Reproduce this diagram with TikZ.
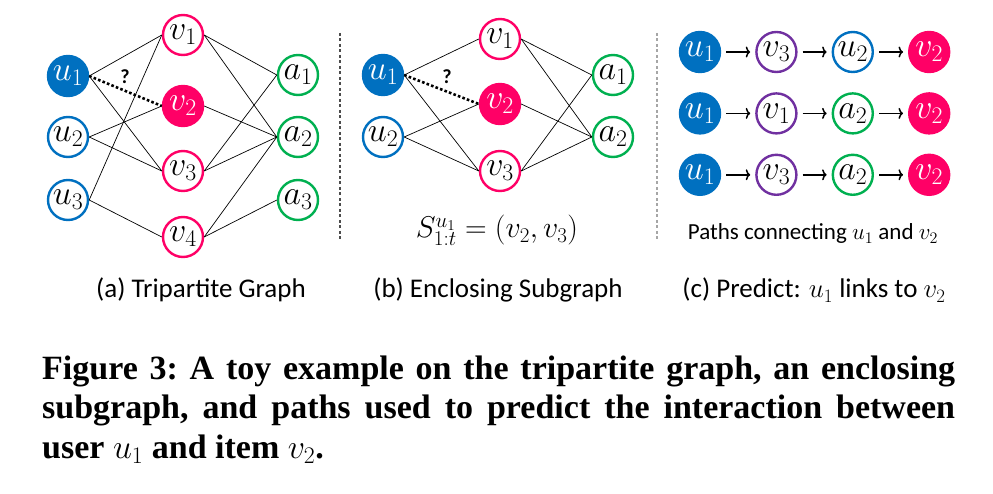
\RequirePackage{fix-cm}
\documentclass[tikz,border=0pt]{standalone}
\usepackage{fontspec}
\setmainfont{Liberation Serif}
\newfontfamily\calibri{Carlito}
\usetikzlibrary{positioning,arrows.meta}
\definecolor{ublue}{HTML}{0070C0}
\definecolor{vpink}{HTML}{FF0066}
\definecolor{agreen}{HTML}{00B050}
\definecolor{vpurple}{HTML}{7030A0}

\begin{document}
\begin{tikzpicture}[
  x=1pt,y=1pt,
  node distance=34pt,
  vtx/.style={circle,line width=2.4pt,minimum size=40pt,inner sep=0pt,fill=white,font=\fontsize{34}{36}\selectfont},
  usr/.style={vtx,draw=ublue},
  usrq/.style={vtx,draw=ublue,fill=ublue,text=white},
  itm/.style={vtx,draw=vpink},
  itmq/.style={vtx,draw=vpink,fill=vpink,text=white},
  itmp/.style={vtx,draw=vpurple},
  att/.style={vtx,draw=agreen},
  ln/.style={line width=0.7pt},
  qln/.style={line width=2.6pt,dash pattern=on 2.6pt off 2.2pt},
  qmark/.style={font=\calibri\bfseries\fontsize{20}{22}\selectfont},
  ar/.style={-{To[length=4.5pt,width=11pt]},line width=1.5pt,shorten <=5pt,shorten >=5pt},
  sep/.style={line width=1.1pt,dash pattern=on 3pt off 2.5pt},
  sub/.style={font=\calibri\fontsize{27}{30}\selectfont,anchor=base}
]
\useasboundingbox (0,0) rectangle (993,493);

% (a) tripartite graph
\node[usrq] (tu1) at (68,417) {$u_1$};
\node[usr] (tu2) at (68,356) {$u_2$};
\node[usr] (tu3) at (68,293) {$u_3$};
\node[itm] (tv1) at (183,458) {$v_1$};
\node[itmq] (tv2) at (183,387) {$v_2$};
\node[itm] (tv3) at (183,322) {$v_3$};
\node[itm] (tv4) at (183,256) {$v_4$};
\node[att] (ta1) at (298,418) {$a_1$};
\node[att] (ta2) at (298,356) {$a_2$};
\node[att] (ta3) at (298,293) {$a_3$};
\node[qmark] (tq) at (125,416) {?};

\draw[ln] (tu1.east) -- (tv1.west);
\draw[ln] (tu1.east) -- (tv3.west);
\draw[ln] (tu2.east) -- (tv2.west);
\draw[ln] (tu2.east) -- (tv3.west);
\draw[ln] (tu3.east) -- (tv1.west);
\draw[ln] (tu3.east) -- (tv4.west);
\draw[ln] (tv1.east) -- (ta1.west);
\draw[ln] (tv1.east) -- (ta2.west);
\draw[ln] (tv2.east) -- (ta2.west);
\draw[ln] (tv3.east) -- (ta1.west);
\draw[ln] (tv3.east) -- (ta2.west);
\draw[ln] (tv4.east) -- (ta2.west);
\draw[ln] (tv4.east) -- (ta3.west);
\draw[qln] (tu1.east) -- (tv2.west);

\draw[sep,black!70] (340,460) -- (340,253);

% (b) enclosing subgraph
\node[usrq] (su1) at (383,418) {$u_1$};
\node[usr] (su2) at (383,356) {$u_2$};
\node[itm] (sv1) at (500,454) {$v_1$};
\node[itmq] (sv2) at (500,389) {$v_2$};
\node[itm] (sv3) at (500,322) {$v_3$};
\node[att] (sa1) at (613,418) {$a_1$};
\node[att] (sa2) at (613,356) {$a_2$};
\node[qmark] (sq) at (447,416) {?};
\node[font=\fontsize{30}{32}\selectfont,anchor=base] (sform) at (497,255) {$S^{u_1}_{1:t}=(v_2,v_3)$};

\draw[ln] (su1.east) -- (sv1.west);
\draw[ln] (su1.east) -- (sv3.west);
\draw[ln] (su2.east) -- (sv2.west);
\draw[ln] (su2.east) -- (sv3.west);
\draw[ln] (sv1.east) -- (sa1.west);
\draw[ln] (sv1.east) -- (sa2.west);
\draw[ln] (sv2.east) -- (sa2.west);
\draw[ln] (sv3.east) -- (sa1.west);
\draw[ln] (sv3.east) -- (sa2.west);
\draw[qln] (su1.east) -- (sv2.west);

\draw[sep,black!35] (657,460) -- (657,253);

% (c) paths from u1 to v2
\node[usrq] (p1u) at (700,441) {$u_1$};
\node[itmp,right=of p1u] (p1v) {$v_3$};
\node[usr,right=of p1v] (p1m) {$u_2$};
\node[itmq,right=of p1m] (p1t) {$v_2$};
\node[usrq,below=19pt of p1u] (p2u) {$u_1$};
\node[itmp,right=of p2u] (p2v) {$v_1$};
\node[att,right=of p2v] (p2m) {$a_2$};
\node[itmq,right=of p2m] (p2t) {$v_2$};
\node[usrq,below=19pt of p2u] (p3u) {$u_1$};
\node[itmp,right=of p3u] (p3v) {$v_3$};
\node[att,right=of p3v] (p3m) {$a_2$};
\node[itmq,right=of p3m] (p3t) {$v_2$};

\draw[ar] (p1u) -- (p1v);
\draw[ar] (p1v) -- (p1m);
\draw[ar] (p1m) -- (p1t);
\draw[ar] (p2u) -- (p2v);
\draw[ar] (p2v) -- (p2m);
\draw[ar] (p2m) -- (p2t);
\draw[ar] (p3u) -- (p3v);
\draw[ar] (p3v) -- (p3m);
\draw[ar] (p3m) -- (p3t);
\node[font=\calibri\fontsize{23}{26}\selectfont,anchor=base] (ptxt) at (813,253) {Paths connecting $u_1$ and $v_2$};

% sub-captions
\node[sub] (capa) at (201,195) {(a) Tripartite Graph};
\node[sub] (capb) at (498,195) {(b) Enclosing Subgraph};
\node[sub] (capc) at (814,195) {(c) Predict: $u_1$ links to $v_2$};

% figure caption
\node[anchor=base west,inner sep=0pt,text width=913pt,align=justify,
  font=\frenchspacing\bfseries\fontsize{34}{39.5}\selectfont] (figcap) at (42,114)
  {Figure 3: A toy example on the tripartite graph, an enclosing\linebreak
   subgraph, and paths used to predict the interaction between\linebreak
   user $u_1$ and item $v_2$.};
\end{tikzpicture}
\end{document}
